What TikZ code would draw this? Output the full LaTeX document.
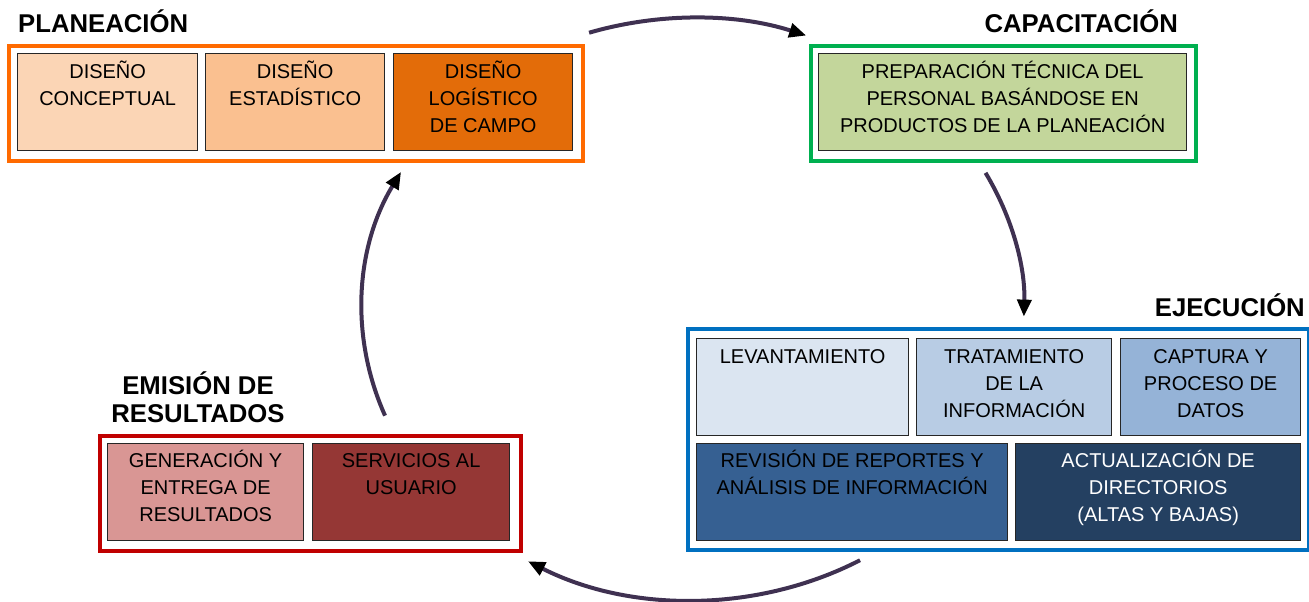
\documentclass[tikz,border=0pt]{standalone}
\usepackage{fontspec}
\setmainfont{Liberation Sans}
\usetikzlibrary{arrows.meta,calc}
\definecolor{orng}{HTML}{FF6A00}
\definecolor{pA}{HTML}{FBD5B5}
\definecolor{pB}{HTML}{FAC090}
\definecolor{pC}{HTML}{E36C09}
\definecolor{grn}{HTML}{00B050}
\definecolor{gA}{HTML}{C3D69B}
\definecolor{blu}{HTML}{0070C0}
\definecolor{bA}{HTML}{DBE5F1}
\definecolor{bB}{HTML}{B8CCE4}
\definecolor{bC}{HTML}{95B3D7}
\definecolor{bD}{HTML}{366092}
\definecolor{bE}{HTML}{244061}
\definecolor{redo}{HTML}{C00000}
\definecolor{rA}{HTML}{D99694}
\definecolor{rB}{HTML}{953735}
\definecolor{arrowc}{HTML}{3F3151}
\tikzset{
  outerbox/.style={draw=#1, line width=4pt, anchor=north west, inner sep=0pt},
  inbox/.style={draw=black!85, line width=1.3pt, fill=#1, anchor=north west, inner sep=0pt, minimum height=97pt},
  lbl/.style={font=\fontsize{20}{27}\selectfont, align=center, inner sep=0pt, anchor=north},
  ttl/.style={font=\fontsize{25.7}{28}\selectfont\bfseries, inner sep=0pt},
  cyc/.style={draw=arrowc, line width=4pt, -{Triangle[length=17pt,width=14pt,color=black]}}
}
\begin{document}
\begin{tikzpicture}[x=1pt,y=-1pt]
\useasboundingbox (0,0) rectangle (1309,602);
% outer frames
\node[outerbox=orng, minimum width=574pt, minimum height=115pt] (plan) at (7,44) {};
\node[outerbox=grn, minimum width=385pt, minimum height=115pt] (cap) at (809,44) {};
\node[outerbox=blu, minimum width=621pt, minimum height=221pt] (ej) at (686,327) {};
\node[outerbox=redo, minimum width=421pt, minimum height=115pt] (em) at (98,434) {};
% titles
\node[ttl, anchor=base west] (tplan) at (18,33) {PLANEACIÓN};
\node[ttl, anchor=base east] (tcap) at (1178,33) {CAPACITACIÓN};
\node[ttl, anchor=base east] (tej) at (1305,316) {EJECUCIÓN};
\node[ttl, align=center, anchor=north] (tem) at (198,371.4) {\strut EMISIÓN DE\\RESULTADOS};
% planeacion boxes
\node[inbox=pA, minimum width=180pt] (p1) at (17,53) {};
\node[inbox=pB, minimum width=179pt] (p2) at (205,53) {};
\node[inbox=pC, minimum width=179pt] (p3) at (393,53) {};
\node[lbl] (p1t) at ([yshift=-6.5pt]p1.north) {\strut DISEÑO\\CONCEPTUAL};
\node[lbl] (p2t) at ([yshift=-6.5pt]p2.north) {\strut DISEÑO\\ESTADÍSTICO};
\node[lbl] (p3t) at ([yshift=-6.5pt]p3.north) {\strut DISEÑO\\LOGÍSTICO\\DE CAMPO};
% capacitacion
\node[inbox=gA, minimum width=368pt] (c1) at (818,53) {};
\node[lbl] (c1t) at ([yshift=-6.5pt]c1.north) {\strut PREPARACIÓN TÉCNICA DEL\\PERSONAL BASÁNDOSE EN\\PRODUCTOS DE LA PLANEACIÓN};
% ejecucion
\node[inbox=bA, minimum width=212pt] (e1) at (696,338) {};
\node[inbox=bB, minimum width=195pt] (e2) at (916,338) {};
\node[inbox=bC, minimum width=180pt] (e3) at (1120,338) {};
\node[inbox=bD, minimum width=311pt] (e4) at (696,443) {};
\node[inbox=bE, minimum width=285pt] (e5) at (1015,443) {};
\node[lbl] (e1t) at ([yshift=-6pt]e1.north) {\strut LEVANTAMIENTO};
\node[lbl] (e2t) at ([yshift=-6pt]e2.north) {\strut TRATAMIENTO\\DE LA\\INFORMACIÓN};
\node[lbl] (e3t) at ([yshift=-6pt]e3.north) {\strut CAPTURA Y\\PROCESO DE\\DATOS};
\node[lbl] (e4t) at ([yshift=-5.5pt]e4.north) {\strut REVISIÓN DE REPORTES Y\\ANÁLISIS DE INFORMACIÓN};
\node[lbl, text=white] (e5t) at ([yshift=-5.5pt]e5.north) {\strut ACTUALIZACIÓN DE\\DIRECTORIOS\\(ALTAS Y BAJAS)};
% emision
\node[inbox=rA, minimum width=196pt] (r1) at (107,443) {};
\node[inbox=rB, minimum width=197pt] (r2) at (312,443) {};
\node[lbl] (r1t) at ([yshift=-5.5pt]r1.north) {\strut GENERACIÓN Y\\ENTREGA DE\\RESULTADOS};
\node[lbl] (r2t) at ([yshift=-5.5pt]r2.north) {\strut SERVICIOS AL\\USUARIO};
% cycle arrows on an ellipse
\coordinate (cc) at (693,309);
\coordinate (a1) at ($(cc)+(-108.3:331 and 291)$);
\coordinate (a2) at ($(cc)+(-27.9:331 and 291)$);
\coordinate (a3) at ($(cc)+(59.7:331 and 291)$);
\coordinate (a4) at ($(cc)+(158.5:331 and 291)$);
\draw[cyc] (a1) arc[start angle=-108.3, end angle=-70, x radius=331, y radius=291];
\draw[cyc] (a2) arc[start angle=-27.9, end angle=1.5, x radius=331, y radius=291];
\draw[cyc] (a3) arc[start angle=59.7, end angle=119.9, x radius=331, y radius=291];
\draw[cyc] (a4) arc[start angle=158.5, end angle=208.1, x radius=331, y radius=291];
\end{tikzpicture}
\end{document}
